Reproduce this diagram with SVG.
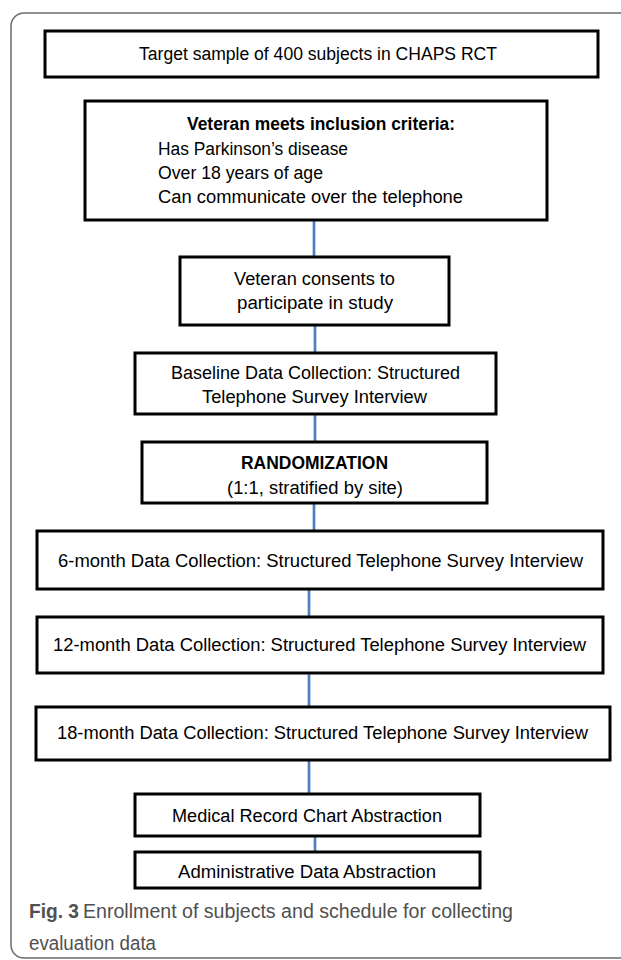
<svg xmlns="http://www.w3.org/2000/svg" width="621" height="960" viewBox="0 0 621 960">
<style>
.frame{fill:none;stroke:#6b6b6b;stroke-width:1.5}
.box{fill:#fff;stroke:#000;stroke-width:3}
.t{font-family:"Liberation Sans",Arial,sans-serif;font-size:18px;fill:#000}
.c{text-anchor:middle}
.b{font-weight:bold}
.conn{stroke:#4F81BD;stroke-width:2.7;fill:none}
.cap{font-family:"Liberation Sans",Arial,sans-serif;font-size:20px;fill:#505050}
</style>
<rect width="621" height="960" fill="#fff"/>
<rect class="frame" x="11" y="13" width="700" height="945" rx="13"/>
<g id="connectors">
<line class="conn" x1="314" y1="220" x2="314" y2="257"/>
<line class="conn" x1="315" y1="325" x2="315" y2="353"/>
<line class="conn" x1="315" y1="414" x2="315" y2="442"/>
<line class="conn" x1="314" y1="503" x2="314" y2="531"/>
<line class="conn" x1="309" y1="589" x2="309" y2="617"/>
<line class="conn" x1="309" y1="673" x2="309" y2="707"/>
<line class="conn" x1="309" y1="760" x2="309" y2="794"/>
<line class="conn" x1="315" y1="836" x2="315" y2="852"/>
</g>
<g id="target">
<rect class="box" x="45" y="31" width="553" height="46"/>
<text class="t c" x="318" y="60" textLength="358" lengthAdjust="spacingAndGlyphs">Target sample of 400 subjects in CHAPS RCT</text>
</g>
<g id="inclusion">
<rect class="box" x="85" y="101" width="462" height="119"/>
<text class="t c b" x="321" y="130" textLength="268" lengthAdjust="spacingAndGlyphs">Veteran meets inclusion criteria:</text>
<text class="t" x="158" y="155" textLength="190" lengthAdjust="spacingAndGlyphs">Has Parkinson’s disease</text>
<text class="t" x="158" y="179" textLength="165" lengthAdjust="spacingAndGlyphs">Over 18 years of age</text>
<text class="t" x="158" y="203" textLength="305" lengthAdjust="spacingAndGlyphs">Can communicate over the telephone</text>
</g>
<g id="consent">
<rect class="box" x="180" y="257" width="269" height="68"/>
<text class="t c" x="314.5" y="285" textLength="161" lengthAdjust="spacingAndGlyphs">Veteran consents to</text>
<text class="t c" x="315" y="309" textLength="156" lengthAdjust="spacingAndGlyphs">participate in study</text>
</g>
<g id="baseline">
<rect class="box" x="135" y="353" width="361" height="61"/>
<text class="t c" x="315.5" y="379" textLength="289" lengthAdjust="spacingAndGlyphs">Baseline Data Collection: Structured</text>
<text class="t c" x="314.5" y="403" textLength="225" lengthAdjust="spacingAndGlyphs">Telephone Survey Interview</text>
</g>
<g id="randomization">
<rect class="box" x="142" y="442" width="345" height="61"/>
<text class="t c b" x="314.5" y="469" textLength="147" lengthAdjust="spacingAndGlyphs">RANDOMIZATION</text>
<text class="t c" x="315" y="494" textLength="176" lengthAdjust="spacingAndGlyphs">(1:1, stratified by site)</text>
</g>
<g id="month6">
<rect class="box" x="37" y="531" width="566" height="58"/>
<text class="t c" x="320.5" y="567" textLength="525" lengthAdjust="spacingAndGlyphs">6-month Data Collection: Structured Telephone Survey Interview</text>
</g>
<g id="month12">
<rect class="box" x="37" y="617" width="566" height="56"/>
<text class="t c" x="319.5" y="651" textLength="533" lengthAdjust="spacingAndGlyphs">12-month Data Collection: Structured Telephone Survey Interview</text>
</g>
<g id="month18">
<rect class="box" x="36" y="707" width="574" height="53"/>
<text class="t c" x="322.5" y="739" textLength="531" lengthAdjust="spacingAndGlyphs">18-month Data Collection: Structured Telephone Survey Interview</text>
</g>
<g id="medical">
<rect class="box" x="135" y="794" width="345" height="42"/>
<text class="t c" x="307" y="822" textLength="270" lengthAdjust="spacingAndGlyphs">Medical Record Chart Abstraction</text>
</g>
<g id="administrative">
<rect class="box" x="135" y="852" width="345" height="36"/>
<text class="t c" x="307" y="878" textLength="258" lengthAdjust="spacingAndGlyphs">Administrative Data Abstraction</text>
</g>
<g id="caption">
<text class="cap b" x="29" y="918" fill="#333" textLength="50" lengthAdjust="spacingAndGlyphs">Fig. 3</text>
<text class="cap" x="83" y="918" textLength="430" lengthAdjust="spacingAndGlyphs">Enrollment of subjects and schedule for collecting</text>
<text class="cap" x="29" y="950" textLength="127" lengthAdjust="spacingAndGlyphs">evaluation data</text>
</g>
</svg>
